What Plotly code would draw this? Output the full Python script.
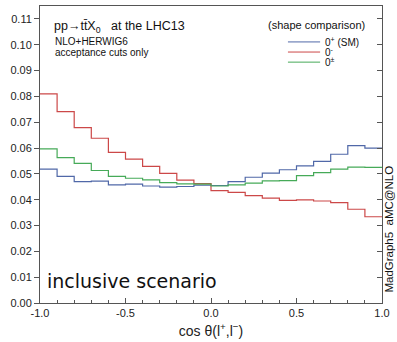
import plotly.graph_objects as go

# ---- data ----
bin_edges = [-1.0, -0.9, -0.8, -0.7, -0.6, -0.5, -0.4, -0.3, -0.2, -0.1, 0.0,
             0.1, 0.2, 0.3, 0.4, 0.5, 0.6, 0.7, 0.8, 0.9, 1.0]
sm_plus = [0.0518, 0.0490, 0.0470, 0.0472, 0.0457, 0.0460, 0.0453, 0.0449, 0.0451, 0.0456,
           0.0455, 0.0470, 0.0487, 0.0503, 0.0516, 0.0531, 0.0548, 0.0576, 0.0609, 0.0600]
minus = [0.0810, 0.0741, 0.0679, 0.0638, 0.0583, 0.0557, 0.0529, 0.0502, 0.0476, 0.0462,
         0.0435, 0.0428, 0.0416, 0.0406, 0.0397, 0.0399, 0.0395, 0.0389, 0.0363, 0.0334]
mixed = [0.0597, 0.0563, 0.0541, 0.0513, 0.0490, 0.0483, 0.0477, 0.0466, 0.0461, 0.0460,
         0.0453, 0.0457, 0.0464, 0.0473, 0.0474, 0.0493, 0.0505, 0.0518, 0.0526, 0.0525]
series_names = ["0<sup>+</sup> (SM)", "0<sup>-</sup>", "0<sup>±</sup>"]
series_colors = ["#5068a8", "#cc4848", "#46aa58"]
x_ticks = [-1.0, -0.5, 0.0, 0.5, 1.0]
x_tick_labels = ["-1.0", "-0.5", "0.0", "0.5", "1.0"]

fig = go.Figure()
for vals, name, col in zip([sm_plus, minus, mixed], series_names, series_colors):
    fig.add_trace(go.Scatter(x=bin_edges, y=list(vals) + [vals[-1]], mode="lines",
                             line=dict(shape="hv", color=col, width=1.2),
                             name=name, showlegend=False))
# invisible trace for right axis
fig.add_trace(go.Scatter(x=[None], y=[None], yaxis="y2", showlegend=False))

tickfont = dict(family="Liberation Sans, Arial", size=11, color="#222")
fig.update_layout(
    width=397, height=342,
    margin=dict(l=40, r=15, t=6, b=39),
    paper_bgcolor="white", plot_bgcolor="white",
    xaxis=dict(range=[-1, 1], tickvals=x_ticks, ticktext=x_tick_labels, ticks="inside",
               ticklen=5, tickcolor="#555", showline=True, linecolor="#555", linewidth=1,
               mirror=True, showgrid=False, zeroline=False, tickfont=tickfont,
               minor=dict(dtick=0.1, ticks="inside", ticklen=3, tickcolor="#555", showgrid=False),
               title=dict(text="cos θ(l<sup>+</sup>,l<sup>−</sup>)",
                          font=dict(family="Liberation Sans, Arial", size=14, color="#222"),
                          standoff=7)),
    yaxis=dict(range=[0, 0.115], dtick=0.01, tick0=0, tickformat=".2f", ticks="outside",
               ticklen=5, tickcolor="#555", showline=True, linecolor="#555", linewidth=1,
               mirror=True, showgrid=False, zeroline=False, tickfont=tickfont),
    yaxis2=dict(range=[0, 0.115], dtick=0.01, tick0=0, overlaying="y", side="right",
                ticks="inside", ticklen=5, tickcolor="#555", showticklabels=False,
                showline=False, showgrid=False, zeroline=False),
)

txt = dict(family="Liberation Sans, Arial", color="#111")
anns = [
    dict(x=0.035, y=0.929, text="pp→tt\u0304X<sub>0</sub>   at the LHC13", xanchor="left",
         yanchor="middle", font=dict(size=12.5, **txt)),
    dict(x=0.038, y=0.879, text="NLO+HERWIG6", xanchor="left", yanchor="middle",
         font=dict(size=10, **txt)),
    dict(x=0.038, y=0.842, text="acceptance cuts only", xanchor="left", yanchor="middle",
         font=dict(size=10, **txt)),
    dict(x=0.956, y=0.936, text="(shape comparison)", xanchor="right", yanchor="middle",
         font=dict(size=11, **txt)),
    dict(x=0.015, y=0.074, text="inclusive scenario", xanchor="left", yanchor="middle",
         font=dict(family="DejaVu Sans", size=19, color="#111")),
    dict(x=1.02, y=0.25, text="MadGraph5  aMC@NLO", textangle=-90, xanchor="center",
         yanchor="middle", font=dict(size=11.5, **txt)),
]
leg_y = [0.879, 0.845, 0.811]
shapes = []
for name, col, ly in zip(series_names, series_colors, leg_y):
    shapes.append(dict(type="line", xref="paper", yref="paper", x0=0.725, x1=0.819,
                       y0=ly, y1=ly, line=dict(color=col, width=1)))
    anns.append(dict(x=0.827, y=ly, text=name, xanchor="left", yanchor="middle",
                     font=dict(size=10, **txt)))
for a in anns:
    a.update(xref="paper", yref="paper", showarrow=False)
fig.update_layout(annotations=anns, shapes=shapes)

fig.write_html("out.html")
